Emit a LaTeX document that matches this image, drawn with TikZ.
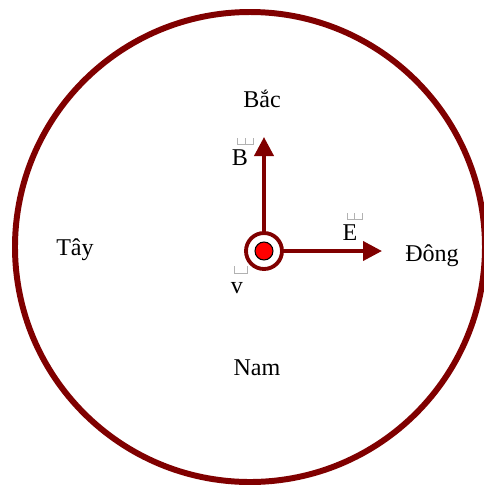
\documentclass[tikz,border=0pt]{standalone}
\usepackage{fontspec}
\setmainfont{Liberation Serif}
\usetikzlibrary{arrows.meta}
\definecolor{darkred}{RGB}{128,0,0}

\begin{document}
\begin{tikzpicture}[x=0.02cm,y=-0.02cm,font=\fontsize{13.7}{16}\selectfont]
\useasboundingbox (0,0) rectangle (484,485);

\coordinate (O) at (250,247);
\coordinate (Q) at (264,251);
\coordinate (Bt) at (264,137);
\coordinate (Et) at (382,251);

\draw[darkred, line width=3.4pt] (O) circle[radius=235];

\node[circle, draw=darkred, fill=white, line width=2.2pt, minimum size=0.72cm, inner sep=0] (src) at (Q) {};
\node[circle, draw=black, fill=red, line width=0.6pt, minimum size=0.36cm, inner sep=0] (dot) at (Q) {};

\draw[darkred, line width=2.2pt, -{Triangle[length=0.38cm,width=0.38cm]}] (src.north) -- (Bt);
\draw[darkred, line width=2.2pt, -{Triangle[length=0.38cm,width=0.38cm]}] (src.east) -- (Et);

% missing glyph boxes over the letters
\draw[gray!60, line width=0.5pt] (237,138) -- (237,144) -- (253,144) -- (253,138) (245,138) -- (245,144);
\draw[gray!60, line width=0.5pt] (347,213) -- (347,219) -- (362,219) -- (362,213) (354,213) -- (354,219);
\draw[gray!60, line width=0.5pt] (234,266) -- (234,273) -- (247,273) -- (247,266);

\node (bac) at (262,99) {Bắc};
\node (dong) at (432,256) {Đông};
\node (tay) at (75,250) {Tây};
\node (nam) at (257,368) {Nam};
\node (B) at (240,158) {B};
\node (E) at (350,233) {E};
\node (v) at (237,288) {v};
\end{tikzpicture}
\end{document}
